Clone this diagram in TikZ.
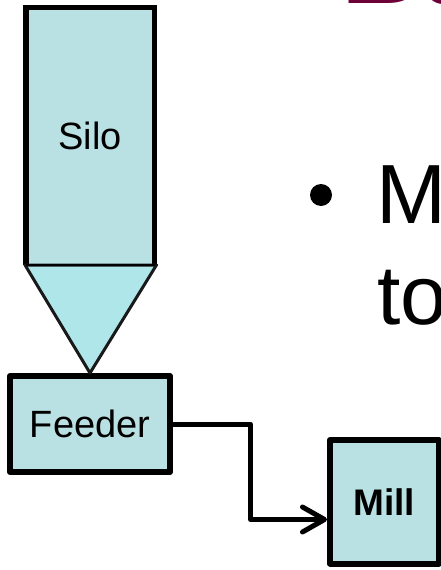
\documentclass[tikz,border=0pt]{standalone}
\usepackage{fontspec}
\setmainfont{Liberation Sans}
\usetikzlibrary{arrows.meta}
\definecolor{boxfill}{RGB}{185,224,227}
\definecolor{conefill}{RGB}{174,230,234}
\definecolor{titlered}{RGB}{110,0,56}
\begin{document}
\begin{tikzpicture}[x=1pt,y=-1pt,
  box/.style={draw=black, fill=boxfill, line width=6pt, line join=round, inner sep=0pt,
    font=\fontsize{38}{40}\selectfont},
  silobody/.style={fill=boxfill, inner sep=0pt, outer sep=0pt, font=\fontsize{38}{40}\selectfont},
  wall/.style={line width=5.5pt, line join=miter},
  cone/.style={draw=black!90, fill=conefill, line width=3pt, line join=round},
  conn/.style={line width=5pt, line join=round, -{Straight Barb[round,length=22pt,width=25pt]}},
  bigtext/.style={anchor=base west, inner sep=0pt, font=\fontsize{84}{100}\selectfont},
  titletext/.style={anchor=base west, inner sep=0pt, text=titlered, font=\bfseries\fontsize{113}{120}\selectfont}
]
\useasboundingbox (0,0) rectangle (441,570);
\clip (0,0) rectangle (441,570);

% title fragment
\node[titletext] (title) at (341.7,4) {Ball Mill};

% silo
\node[silobody, minimum width=128.5pt, minimum height=257.5pt] (silo) at (90.25,136.25) {Silo};
\draw[wall] (silo.south west) -- (silo.north west) -- (silo.north east) -- (silo.south east);

% feeder
\node[box, minimum width=160pt, minimum height=96pt] (feeder) at (90,424) {Feeder};

% cone
\draw[cone] ([xshift=-1pt]silo.south west) -- ([xshift=2pt]silo.south east) -- (feeder.north) -- cycle;
\draw[line width=1.2pt] (silo.south west) -- (silo.south east);

% mill
\node[box, font=\bfseries\fontsize{37}{40}\selectfont, minimum width=108.5pt, minimum height=123.5pt] (mill) at (384.25,501.75) {Mill};

% connector
\draw[conn] (feeder.east) -- ++(77.5,0) |- ([yshift=-17.75pt]mill.west);

% bullet text
\node[circle, fill=black, minimum size=22pt, inner sep=0pt] (bullet) at (321,195) {};
\node[bigtext] (lineone) at (376,223) {M};
\node[bigtext] (linetwo) at (377,324) {to};
\end{tikzpicture}
\end{document}
